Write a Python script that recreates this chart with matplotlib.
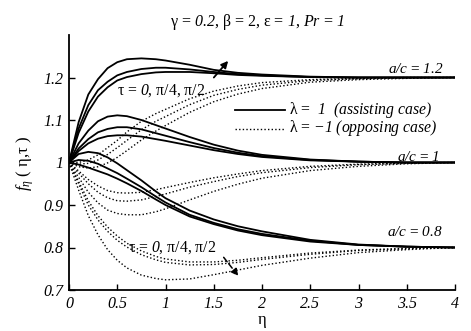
import matplotlib
matplotlib.use('Agg')
import matplotlib.pyplot as plt

plt.rcParams['font.family'] = 'Liberation Serif'
plt.rcParams['mathtext.fontset'] = 'custom'
plt.rcParams['mathtext.rm'] = 'Liberation Serif'
plt.rcParams['mathtext.it'] = 'Liberation Serif:italic'
# sf slot used for italic digits (mathtext forces digits in \mathit to roman)
plt.rcParams['mathtext.sf'] = 'Liberation Serif:italic'

eta = [0, 0.1, 0.2, 0.3, 0.4, 0.5, 0.6, 0.75, 0.9, 1.0, 1.25, 1.5, 1.75, 2.0, 2.5, 3.0, 3.5, 4.0]

# lambda = 1 (assisting), tau = 0, pi/4, pi/2 for each a/c
assist_12 = [
    [1.0, 1.095, 1.16, 1.196, 1.222, 1.236, 1.243, 1.245, 1.243, 1.240, 1.230, 1.218, 1.211, 1.207, 1.202, 1.200, 1.2, 1.2],
    [1.0, 1.08, 1.135, 1.17, 1.19, 1.205, 1.213, 1.220, 1.223, 1.223, 1.219, 1.213, 1.208, 1.205, 1.201, 1.2, 1.2, 1.2],
    [1.0, 1.07, 1.12, 1.155, 1.177, 1.193, 1.201, 1.208, 1.212, 1.213, 1.213, 1.21, 1.206, 1.204, 1.201, 1.2, 1.2, 1.2],
]
assist_10 = [
    [1.0, 1.045, 1.075, 1.097, 1.108, 1.111, 1.109, 1.1, 1.088, 1.08, 1.06, 1.042, 1.028, 1.018, 1.007, 1.002, 1.0, 1.0],
    [1.0, 1.033, 1.055, 1.071, 1.079, 1.083, 1.083, 1.078, 1.069, 1.063, 1.048, 1.034, 1.023, 1.015, 1.006, 1.002, 1.0, 1.0],
    [1.0, 1.027, 1.045, 1.056, 1.062, 1.064, 1.064, 1.061, 1.055, 1.051, 1.04, 1.029, 1.02, 1.013, 1.005, 1.002, 1.0, 1.0],
]
assist_08 = [
    [1.0, 1.02, 1.025, 1.022, 1.012, 0.998, 0.982, 0.958, 0.932, 0.916, 0.887, 0.866, 0.85, 0.838, 0.818, 0.807, 0.802, 0.8],
    [1.0, 1.006, 1.004, 0.997, 0.986, 0.975, 0.962, 0.942, 0.92, 0.906, 0.877, 0.858, 0.843, 0.832, 0.816, 0.806, 0.802, 0.8],
    [1.0, 0.995, 0.988, 0.98, 0.972, 0.962, 0.951, 0.933, 0.913, 0.9, 0.873, 0.855, 0.84, 0.829, 0.814, 0.806, 0.802, 0.8],
]

# lambda = -1 (opposing)
oppose_12 = [
    [1.0, 1.0, 1.006, 1.018, 1.035, 1.052, 1.072, 1.097, 1.115, 1.125, 1.150, 1.168, 1.180, 1.188, 1.195, 1.198, 1.2, 1.2],
    [1.0, 0.996, 0.998, 1.006, 1.019, 1.035, 1.052, 1.077, 1.097, 1.108, 1.136, 1.158, 1.172, 1.182, 1.193, 1.197, 1.199, 1.2],
    [1.0, 0.99, 0.987, 0.99, 0.999, 1.012, 1.028, 1.053, 1.074, 1.087, 1.118, 1.143, 1.161, 1.174, 1.189, 1.195, 1.198, 1.2],
]
oppose_10 = [
    [1.0, 0.98, 0.96, 0.945, 0.934, 0.929, 0.928, 0.93, 0.936, 0.941, 0.953, 0.964, 0.973, 0.981, 0.991, 0.996, 0.999, 1.0],
    [1.0, 0.975, 0.95, 0.93, 0.917, 0.91, 0.909, 0.912, 0.92, 0.926, 0.942, 0.955, 0.967, 0.976, 0.988, 0.995, 0.998, 1.0],
    [1.0, 0.965, 0.93, 0.905, 0.888, 0.88, 0.877, 0.877, 0.884, 0.891, 0.912, 0.932, 0.949, 0.963, 0.981, 0.991, 0.997, 1.0],
]
oppose_08 = [
    [1.0, 0.955, 0.91, 0.875, 0.848, 0.827, 0.81, 0.792, 0.779, 0.773, 0.766, 0.766, 0.77, 0.776, 0.787, 0.794, 0.798, 0.8],
    [1.0, 0.95, 0.9, 0.865, 0.838, 0.817, 0.801, 0.783, 0.771, 0.765, 0.759, 0.76, 0.765, 0.772, 0.784, 0.793, 0.797, 0.8],
    [1.0, 0.935, 0.875, 0.83, 0.795, 0.77, 0.752, 0.735, 0.727, 0.724, 0.726, 0.736, 0.747, 0.758, 0.775, 0.788, 0.795, 0.8],
]

xticks = [0, 0.5, 1, 1.5, 2, 2.5, 3, 3.5, 4]
xtick_labels = ['0', '0.5', '1', '1.5', '2', '2.5', '3', '3.5', '4']
yticks = [0.7, 0.8, 0.9, 1.0, 1.1, 1.2]
ytick_labels = ['0.7', '0.8', '0.9', '1', '1.1', '1.2']

fig = plt.figure(figsize=(4.71, 3.31), dpi=100)
ax = fig.add_axes([69 / 471, 41 / 331, 386 / 471, 255 / 331])

for group in (assist_12, assist_10, assist_08):
    for ys in group:
        ax.plot(eta, ys, color='black', lw=1.3, solid_capstyle='butt')
for group in (oppose_12, oppose_10, oppose_08):
    for ys in group:
        ax.plot(eta, ys, color='black', lw=1.0, ls=(0, (1, 1.6)))

ax.set_xlim(0, 4)
ax.set_ylim(0.7, 1.3)
ax.set_xticks(xticks)
ax.set_xticklabels(xtick_labels, fontstyle='italic', fontsize=11.5)
ax.set_yticks(yticks)
ax.set_yticklabels(ytick_labels, fontstyle='italic', fontsize=11.5)
ax.tick_params(direction='in', length=4, width=1.0, pad=4)
for s in ('top', 'right'):
    ax.spines[s].set_visible(False)
for s in ('left', 'bottom'):
    ax.spines[s].set_linewidth(1.3)

# annotations
tau_txt = 'τ = $\\mathsf{0}$, π/4, π/2'
ax.text(0.5, 1.168, tau_txt, fontsize=11.3, va='center')
ax.text(0.61, 0.799, tau_txt, fontsize=11.3, va='center')
ax.text(3.88, 1.219, '$\\mathsf{a/c}$ = $\\mathsf{1.2}$', fontsize=11, ha='right', va='center')
ax.text(3.84, 1.012, '$\\mathsf{a/c}$ = $\\mathsf{1}$', fontsize=11, ha='right', va='center')
ax.text(3.87, 0.836, '$\\mathsf{a/c}$ = $\\mathsf{0.8}$', fontsize=11, ha='right', va='center')

ax.annotate('', xy=(1.668, 1.244), xytext=(1.482, 1.195),
            arrowprops=dict(arrowstyle='-|>', color='black', lw=1.3, mutation_scale=10))
ax.annotate('', xy=(1.772, 0.728), xytext=(1.585, 0.782),
            arrowprops=dict(arrowstyle='-|>', color='black', lw=1.1, ls='--', mutation_scale=10))

# legend drawn by hand
ax.plot([1.72, 2.24], [1.1225, 1.1225], color='black', lw=1.3)
ax.plot([1.72, 2.24], [1.080, 1.080], color='black', lw=1.0, ls=(0, (1, 1.6)))
ax.text(2.28, 1.1225, 'λ =  $\\mathsf{1}$  $\\mathsf{(assisting\\ case)}$', fontsize=11.3, va='center')
ax.text(2.28, 1.080, 'λ = $\\mathsf{-1}$ $\\mathsf{(opposing\\ case)}$', fontsize=11.3, va='center')

fig.text(257 / 471, 1 - 22 / 331, 'γ = $\\mathsf{0.2}$, β = 2, ε = $\\mathsf{1}$, $\\mathsf{Pr}$ = $\\mathsf{1}$',
         fontsize=11.5, ha='center', va='center')
fig.text(262 / 471, 1 - 320 / 331, 'η', fontsize=12, ha='center', va='center')
fig.text(25 / 471, 1 - 163 / 331, '$f_{\\eta}$ ( η,τ )', fontsize=12, ha='center', va='center',
         rotation=90)

fig.savefig('out.png', dpi=100)
